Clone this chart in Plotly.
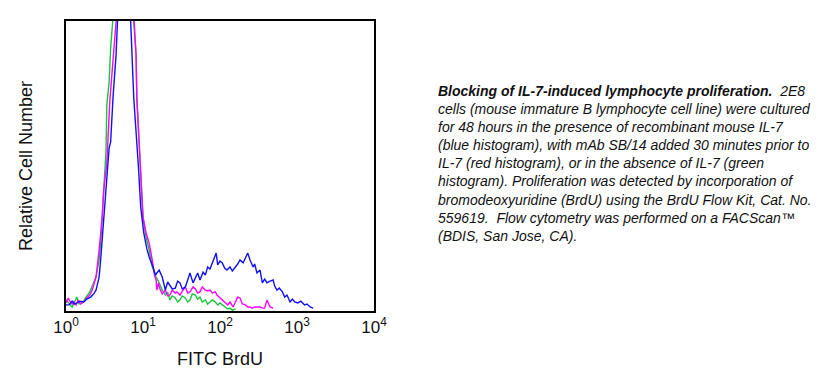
import plotly.graph_objects as go

# ---- data (x in decades of FITC intensity, y = relative cell number) ----
green_log = [0.00,0.03,0.05,0.08,0.11,0.14,0.17,0.20,0.23,0.26,0.30,0.33,0.36,0.39,0.43,0.45,0.47,0.49,0.51,0.52,0.53,0.56,0.58,0.60,0.68,0.74,0.82,0.88,0.91,0.92,0.95,0.97,1.00,1.04,1.08,1.12,1.17,1.21,1.25,1.29,1.32,1.35,1.38,1.42,1.45,1.48,1.51,1.55,1.58,1.61,1.64,1.68,1.71,1.74,1.77,1.81,1.84,1.87,1.90,1.94,1.97,2.00,2.03,2.07,2.10,2.13,2.16,2.20]
green_cnt = [3.8,2.8,2.1,1.4,3.1,4.8,2.4,2.8,3.4,4.8,6.2,7.9,9.7,11.7,17.6,23.4,32.4,40.7,48.6,55.5,71.0,79.0,90.7,99.7,125,140,125,99.7,88.3,73.4,58.3,44.1,32.4,25.5,21.0,15.2,11.7,9.7,7.2,5.5,6.5,3.8,5.2,4.5,3.1,3.8,5.2,4.5,3.1,3.8,5.9,5.5,4.1,4.8,3.1,3.8,2.4,3.1,3.8,3.1,2.1,2.8,2.1,1.4,0.7,1.0,0.3,0.7]

magenta_log = [0.00,0.03,0.05,0.08,0.10,0.13,0.16,0.19,0.21,0.24,0.27,0.31,0.34,0.39,0.43,0.47,0.49,0.53,0.57,0.62,0.65,0.70,0.77,0.83,0.88,0.91,0.92,0.95,0.97,1.00,1.04,1.08,1.12,1.15,1.17,1.18,1.20,1.22,1.25,1.29,1.32,1.35,1.38,1.42,1.44,1.48,1.52,1.55,1.58,1.61,1.65,1.68,1.71,1.74,1.77,1.81,1.84,1.87,1.90,1.94,1.96,2.00,2.03,2.07,2.10,2.13,2.17,2.20,2.23,2.26,2.29,2.33,2.36,2.39,2.42,2.45,2.48,2.52,2.55,2.58,2.61,2.65,2.69]
magenta_cnt = [2.8,4.5,3.4,2.4,3.1,2.1,3.8,2.4,2.8,3.4,4.5,5.5,7.2,11.7,21.0,32.4,41.7,51.0,72.8,90.7,99.7,125,140,125,99.7,88.3,73.4,58.3,44.1,32.4,26.9,23.4,17.6,12.4,10.7,7.2,9.7,7.6,5.9,7.2,5.2,5.5,7.2,6.2,6.6,5.5,7.2,8.3,6.2,6.6,8.3,7.6,6.2,6.6,8.3,7.2,6.9,7.2,6.2,6.6,5.5,4.5,3.8,3.1,2.1,3.1,1.4,3.1,4.8,4.5,2.4,2.1,1.4,1.4,1.0,1.4,1.4,1.4,1.0,1.0,3.8,1.4,1.0]

blue_log = [0.00,0.04,0.08,0.11,0.14,0.18,0.23,0.27,0.32,0.36,0.39,0.43,0.45,0.49,0.52,0.56,0.58,0.61,0.65,0.66,0.71,0.75,0.80,0.84,0.86,0.88,0.91,0.92,0.94,0.97,1.01,1.05,1.08,1.13,1.16,1.18,1.21,1.25,1.27,1.29,1.32,1.35,1.38,1.42,1.45,1.48,1.51,1.55,1.58,1.61,1.65,1.68,1.71,1.74,1.78,1.81,1.84,1.87,1.91,1.95,1.97,2.00,2.03,2.06,2.09,2.13,2.16,2.19,2.23,2.26,2.30,2.33,2.36,2.39,2.43,2.45,2.48,2.52,2.55,2.58,2.61,2.65,2.69,2.71,2.74,2.77,2.81,2.84,2.87,2.91,2.94,2.97,3.01,3.05,3.10,3.13,3.17,3.21]
blue_cnt = [2.1,2.1,3.4,2.4,2.8,3.4,3.1,4.1,4.8,5.9,7.2,11.7,17.6,32.4,40.7,56.2,58.3,73.4,88.3,99.7,125,140,125,99.7,84.8,73.4,61.7,56.2,50.0,35.9,26.9,21.5,18.6,15.2,12.4,13.1,14.1,11.7,9.0,7.2,10.0,9.0,7.6,7.9,10.3,9.7,7.6,8.3,11.0,13.1,9.7,11.7,13.1,10.7,13.4,12.4,15.2,14.5,17.6,20.0,15.9,17.2,16.6,14.8,14.1,15.2,13.8,14.8,16.2,17.6,16.6,18.3,20.0,17.6,15.2,16.2,13.1,14.1,9.7,11.0,9.7,10.3,10.7,8.6,7.2,7.9,6.6,4.8,5.5,3.1,4.1,3.1,2.8,3.4,2.1,2.4,1.4,1.0]

tick_vals = [1, 10, 100, 1000, 10000]
tick_text = ["10<sup>0</sup>", "10<sup>1</sup>", "10<sup>2</sup>", "10<sup>3</sup>", "10<sup>4</sup>"]

caption_lines = [
    "<b>Blocking of IL-7-induced lymphocyte proliferation.</b>&nbsp; 2E8",
    "cells (mouse immature B lymphocyte cell line) were cultured",
    "for 48 hours in the presence of recombinant mouse IL-7",
    "(blue histogram), with mAb SB/14 added 30 minutes prior to",
    "IL-7 (red histogram), or in the absence of IL-7 (green",
    "histogram). Proliferation was detected by incorporation of",
    "bromodeoxyuridine (BrdU) using the BrdU Flow Kit, Cat. No.",
    "559619.&nbsp; Flow cytometry was performed on a FACScan™",
    "(BDIS, San Jose, CA).",
]

fig = go.Figure()
for xs, ys, col in [(green_log, green_cnt, "#19c43a"),
                    (magenta_log, magenta_cnt, "#ff00ff"),
                    (blue_log, blue_cnt, "#1010f0")]:
    fig.add_trace(go.Scatter(x=[10 ** v for v in xs], y=ys, mode="lines",
                             line=dict(color=col, width=1.4), showlegend=False,
                             hoverinfo="skip"))

# page body has an 8px default margin, so the figure is sized to fit the window
fig.update_layout(
    width=821, height=364,
    margin=dict(l=58, r=455, t=13, b=61),
    paper_bgcolor="white", plot_bgcolor="white",
    font=dict(family="Arial, Liberation Sans, sans-serif", color="#111"),
    xaxis=dict(type="log", range=[0, 4], tickvals=tick_vals, ticktext=tick_text,
               showgrid=False, zeroline=False, showline=True, mirror=True,
               linecolor="black", linewidth=2, ticks="", tickfont=dict(size=17),
               automargin=False,
               title=dict(text="FITC BrdU", font=dict(size=18), standoff=16)),
    yaxis=dict(range=[0, 100], showticklabels=False, showgrid=False, zeroline=False,
               showline=True, mirror=True, linecolor="black", linewidth=2, ticks="",
               automargin=False,
               title=dict(text="Relative Cell Number", font=dict(size=18), standoff=27)),
)

for i, line in enumerate(caption_lines):
    fig.add_annotation(text="<i>" + line + "</i>", xref="paper", yref="paper",
                       x=(436 - 66) / 308, y=(311 - 91 - 18.1 * i) / 290,
                       xanchor="left", yanchor="middle", showarrow=False, align="left",
                       font=dict(size=14, color="#111",
                                 family="Arial, Liberation Sans, sans-serif"))

fig.write_html("out.html")
